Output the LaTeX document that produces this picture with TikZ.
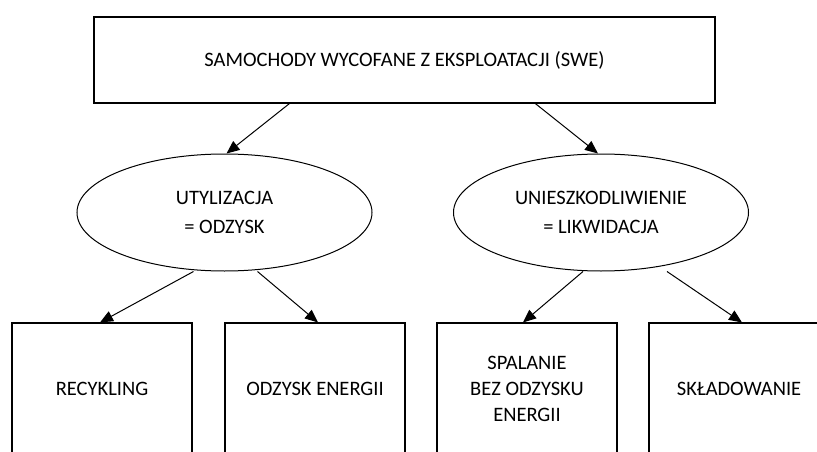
\documentclass[tikz,border=0pt]{standalone}
\usepackage{fontspec}
\setmainfont{Carlito}
\usetikzlibrary{arrows.meta,shapes.geometric}
\begin{document}
\begin{tikzpicture}[x=1pt,y=-1pt,
  every node/.style={font=\fontsize{20.5}{26}\selectfont, align=center, inner sep=0pt},
  boxnode/.style={draw, line width=1.1pt, rectangle, minimum width=180pt, minimum height=132pt},
  ellnode/.style={draw, line width=1pt, ellipse, minimum width=295pt, minimum height=117pt, font=\fontsize{20.5}{29}\selectfont},
  conn/.style={line width=1pt, -{Triangle[length=13pt,width=11pt]}}]
\useasboundingbox (0,0) rectangle (817,452);
\clip (0,0) rectangle (817,452);
\fill[white] (0,0) rectangle (817,452);
\node[draw, line width=1.2pt, rectangle, minimum width=621pt, minimum height=86pt] (top) at (404.5,60) {SAMOCHODY WYCOFANE Z EKSPLOATACJI (SWE)};
\node[ellnode] (ell1) at (224.5,212.5) {UTYLIZACJA\\= ODZYSK};
\node[ellnode] (ell2) at (601,212.5) {UNIESZKODLIWIENIE\\= LIKWIDACJA};
\node[boxnode] (b1) at (102,389) {RECYKLING};
\node[boxnode] (b2) at (315,389) {ODZYSK ENERGII};
\node[boxnode] (b3) at (527,389) {SPALANIE\\BEZ ODZYSKU\\ENERGII};
\node[boxnode] (b4) at (739,389) {SKŁADOWANIE};
\draw[conn] ([xshift=196pt]top.south west) -- ([xshift=2pt]ell1.north);
\draw[conn] ([xshift=442pt]top.south west) -- ([xshift=-3pt]ell2.north);
\draw[conn] ([xshift=-31pt]ell1.south) -- ([xshift=-2pt]b1.north);
\draw[conn] ([xshift=33pt]ell1.south) -- ([xshift=3pt]b2.north);
\draw[conn] ([xshift=-18pt]ell2.south) -- ([xshift=-4pt]b3.north);
\draw[conn] ([xshift=66pt]ell2.south) -- ([xshift=3pt]b4.north);
\end{tikzpicture}
\end{document}
